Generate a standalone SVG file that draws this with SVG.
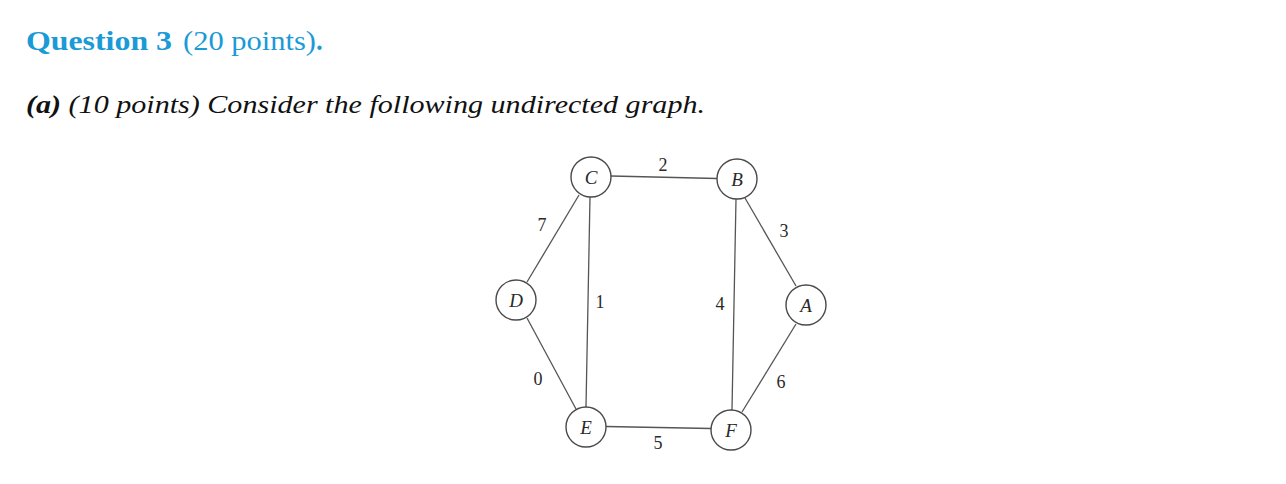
<svg xmlns="http://www.w3.org/2000/svg" width="1286" height="484" viewBox="0 0 1286 484">
<style>
.hd{font-family:"Liberation Serif","DejaVu Serif",serif;fill:#1a9ad6;font-size:27px}
.t2{font-family:"Liberation Serif","DejaVu Serif",serif;fill:#111;font-size:26px;font-style:italic}
.nd{fill:#fff;stroke:#4a4a4a;stroke-width:1.4}
.nl{font-family:"Liberation Serif","DejaVu Serif",serif;font-style:italic;font-size:19px;fill:#2a2a2a;text-anchor:middle}
.ed{stroke:#555;stroke-width:1.3;fill:none}
.w{font-family:"Liberation Serif","DejaVu Serif",serif;font-size:18px;fill:#2a2a2a;text-anchor:middle}
</style>
<rect width="1286" height="484" fill="#fff"/>
<text class="hd" x="26" y="50" font-weight="bold" textLength="146" lengthAdjust="spacingAndGlyphs">Question 3</text>
<text class="hd" x="183" y="50" textLength="133" lengthAdjust="spacingAndGlyphs">(20 points)</text>
<text class="hd" x="316" y="50" font-weight="bold">.</text>
<text class="t2" x="26" y="113" textLength="679" lengthAdjust="spacingAndGlyphs"><tspan font-weight="bold">(a)</tspan> (10 points) Consider the following undirected graph.</text>
<g id="edges">
<line class="ed" x1="611" y1="176" x2="717" y2="178.5"/>
<line class="ed" x1="590" y1="197" x2="586" y2="407"/>
<line class="ed" x1="736" y1="199" x2="732" y2="410"/>
<line class="ed" x1="579" y1="195" x2="527" y2="282"/>
<line class="ed" x1="745" y1="198" x2="796" y2="286"/>
<line class="ed" x1="527" y1="318" x2="576" y2="409"/>
<line class="ed" x1="796" y1="324" x2="742" y2="412"/>
<line class="ed" x1="606" y1="426.5" x2="711" y2="428.5"/>
<text class="w" x="663" y="171">2</text>
<text class="w" x="542" y="231">7</text>
<text class="w" x="784" y="237">3</text>
<text class="w" x="600" y="308">1</text>
<text class="w" x="720" y="310">4</text>
<text class="w" x="538" y="385">0</text>
<text class="w" x="781" y="388">6</text>
<text class="w" x="658" y="449">5</text>
</g>
<g id="node-C"><circle class="nd" cx="591" cy="177" r="20"/><text class="nl" x="591" y="183.5">C</text></g>
<g id="node-B"><circle class="nd" cx="737" cy="179" r="20"/><text class="nl" x="737" y="185.5">B</text></g>
<g id="node-D"><circle class="nd" cx="516" cy="300" r="20"/><text class="nl" x="516" y="306.5">D</text></g>
<g id="node-A"><circle class="nd" cx="806" cy="305" r="20"/><text class="nl" x="806" y="311.5">A</text></g>
<g id="node-E"><circle class="nd" cx="586" cy="427" r="20"/><text class="nl" x="586" y="433.5">E</text></g>
<g id="node-F"><circle class="nd" cx="731" cy="430" r="20"/><text class="nl" x="731" y="436.5">F</text></g>
</svg>
